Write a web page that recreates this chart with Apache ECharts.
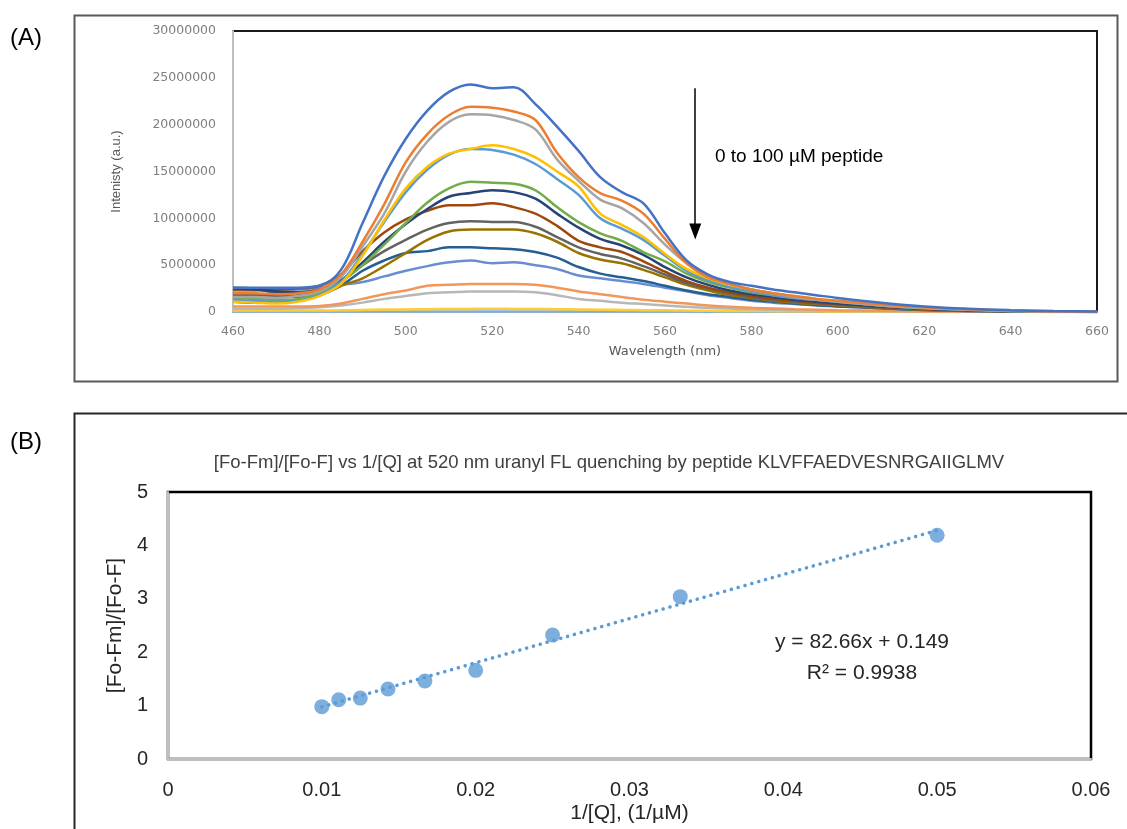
<!DOCTYPE html>
<html>
<head>
<meta charset="utf-8">
<script src="https://cdn.jsdelivr.net/npm/echarts@6/dist/echarts.min.js"></script>
<style>
html,body{margin:0;padding:0;background:#fff;}
#c{width:1127px;height:829px;}
</style>
</head>
<body>
<div id="c"></div>
<script>
// ---------- Panel A: fluorescence spectra ----------
const wavelengths = [460,465,470,475,480,485,490,495,500,505,510,515,520,525,530,535,540,545,550,555,560,565,570,575,580,585,590,595,600,610,620,630,640,650,660];
const spectraColors = ['#4472c4','#ed7d31','#a5a5a5','#ffc000','#5b9bd5','#70ad47','#264478','#9e480e','#636363','#997300','#255e91','#698ed0','#f1975a','#b7b7b7','#ffcd33','#7cafdd'];
const spec1  = [2.6e6,2.6e6,2.6e6,2.6e6,2.8e6,4.5e6,9.5e6,14.5e6,18.5e6,21.5e6,23.5e6,24.3e6,23.9e6,24.0e6,22.2e6,19.8e6,17.2e6,14.4e6,12.8e6,11.6e6,8.4e6,5.5e6,4.0e6,3.2e6,2.8e6,2.4e6,2.1e6,1.8e6,1.5e6,1.0e6,0.6e6,0.35e6,0.2e6,0.1e6,0.05e6];
const spec2  = [2.0e6,2.0e6,1.9e6,2.0e6,2.4e6,4.0e6,7.5e6,11.5e6,16.0e6,19.0e6,21.0e6,21.9e6,21.8e6,21.4e6,20.5e6,17.0e6,14.4e6,12.7e6,11.9e6,10.5e6,7.8e6,5.2e6,3.7e6,3.0e6,2.4e6,2.0e6,1.7e6,1.4e6,1.2e6,0.8e6,0.5e6,0.3e6,0.15e6,0.08e6,0.03e6];
const spec3  = [1.6e6,1.6e6,1.5e6,1.7e6,2.2e6,3.7e6,7.0e6,10.5e6,15.0e6,18.2e6,20.3e6,21.1e6,21.0e6,20.5e6,19.5e6,16.3e6,14.0e6,12.0e6,11.1e6,9.5e6,7.2e6,5.2e6,3.8e6,3.0e6,2.4e6,2.0e6,1.6e6,1.3e6,1.1e6,0.7e6,0.45e6,0.25e6,0.12e6,0.06e6,0.03e6];
const spec4  = [1.1e6,1.0e6,0.9e6,1.1e6,1.7e6,3.0e6,6.0e6,9.8e6,13.2e6,15.5e6,16.9e6,17.4e6,17.8e6,17.4e6,16.5e6,15.0e6,13.4e6,10.5e6,9.3e6,8.0e6,6.2e6,4.6e6,3.6e6,2.9e6,2.4e6,2.0e6,1.7e6,1.4e6,1.2e6,0.75e6,0.45e6,0.3e6,0.15e6,0.07e6,0.03e6];
const spec5  = [1.3e6,1.2e6,1.1e6,1.2e6,1.8e6,3.2e6,6.2e6,9.6e6,12.8e6,15.2e6,16.8e6,17.4e6,17.3e6,16.8e6,15.8e6,14.2e6,12.5e6,10.0e6,8.9e6,7.7e6,6.0e6,4.4e6,3.4e6,2.7e6,2.2e6,1.8e6,1.5e6,1.3e6,1.1e6,0.7e6,0.4e6,0.25e6,0.12e6,0.06e6,0.02e6];
const spec6  = [1.5e6,1.4e6,1.3e6,1.4e6,2.0e6,3.2e6,5.0e6,7.2e6,9.5e6,11.7e6,13.2e6,13.9e6,13.8e6,13.7e6,13.0e6,11.2e6,9.6e6,8.4e6,7.6e6,6.4e6,5.4e6,4.1e6,3.2e6,2.6e6,2.1e6,1.8e6,1.5e6,1.3e6,1.1e6,0.7e6,0.4e6,0.25e6,0.12e6,0.06e6,0.02e6];
const spec7  = [2.5e6,2.4e6,2.2e6,2.1e6,2.4e6,3.4e6,5.3e6,7.5e6,9.4e6,11.0e6,12.3e6,12.7e6,13.0e6,12.8e6,12.1e6,10.5e6,9.0e6,7.8e6,7.1e6,6.1e6,4.8e6,3.7e6,2.9e6,2.3e6,1.9e6,1.6e6,1.3e6,1.1e6,0.9e6,0.6e6,0.35e6,0.2e6,0.1e6,0.05e6,0.02e6];
const spec8  = [2.4e6,2.4e6,2.4e6,2.5e6,2.8e6,4.0e6,6.5e6,8.5e6,9.9e6,10.8e6,11.4e6,11.4e6,11.6e6,11.2e6,10.5e6,9.2e6,7.6e6,6.9e6,6.4e6,5.4e6,4.3e6,3.3e6,2.6e6,2.1e6,1.7e6,1.4e6,1.2e6,1.0e6,0.85e6,0.55e6,0.3e6,0.18e6,0.1e6,0.05e6,0.02e6];
const spec9  = [1.8e6,1.8e6,1.7e6,1.8e6,2.3e6,3.3e6,5.0e6,6.5e6,7.7e6,8.8e6,9.5e6,9.7e6,9.6e6,9.6e6,9.1e6,8.0e6,6.9e6,6.2e6,5.7e6,4.9e6,4.0e6,3.1e6,2.5e6,2.0e6,1.6e6,1.3e6,1.1e6,0.95e6,0.8e6,0.5e6,0.3e6,0.17e6,0.09e6,0.04e6,0.02e6];
const spec10 = [1.1e6,1.0e6,1.0e6,1.2e6,1.8e6,2.8e6,3.6e6,4.9e6,6.3e6,7.7e6,8.6e6,8.8e6,8.8e6,8.8e6,8.4e6,7.5e6,6.3e6,5.6e6,5.2e6,4.5e6,3.7e6,2.9e6,2.3e6,1.8e6,1.5e6,1.2e6,1.0e6,0.85e6,0.7e6,0.45e6,0.25e6,0.15e6,0.08e6,0.04e6,0.02e6];
const spec11 = [2.6e6,2.5e6,2.0e6,1.6e6,1.8e6,2.8e6,4.4e6,5.5e6,6.3e6,6.5e6,6.9e6,6.9e6,6.8e6,6.7e6,6.4e6,5.8e6,4.8e6,4.1e6,3.7e6,3.3e6,2.8e6,2.3e6,1.9e6,1.6e6,1.3e6,1.1e6,0.9e6,0.75e6,0.6e6,0.4e6,0.22e6,0.12e6,0.06e6,0.03e6,0.01e6];
const spec12 = [2.3e6,2.3e6,2.3e6,2.4e6,2.6e6,2.9e6,3.2e6,3.8e6,4.4e6,4.9e6,5.3e6,5.5e6,5.2e6,5.3e6,5.0e6,4.6e6,3.9e6,3.6e6,3.3e6,3.0e6,2.6e6,2.2e6,1.8e6,1.5e6,1.2e6,1.0e6,0.85e6,0.7e6,0.6e6,0.4e6,0.22e6,0.12e6,0.06e6,0.03e6,0.01e6];
const spec13 = [0.6e6,0.6e6,0.6e6,0.6e6,0.65e6,0.9e6,1.4e6,1.9e6,2.3e6,2.8e6,2.9e6,3.0e6,3.0e6,3.0e6,2.9e6,2.6e6,2.2e6,1.9e6,1.6e6,1.3e6,1.1e6,0.9e6,0.7e6,0.55e6,0.45e6,0.38e6,0.3e6,0.25e6,0.2e6,0.13e6,0.08e6,0.05e6,0.03e6,0.02e6,0.01e6];
const spec14 = [0.35e6,0.35e6,0.35e6,0.4e6,0.5e6,0.7e6,1.0e6,1.4e6,1.7e6,2.0e6,2.1e6,2.2e6,2.2e6,2.2e6,2.1e6,1.8e6,1.4e6,1.2e6,1.0e6,0.85e6,0.7e6,0.55e6,0.45e6,0.37e6,0.3e6,0.25e6,0.2e6,0.17e6,0.14e6,0.1e6,0.06e6,0.04e6,0.02e6,0.01e6,0];
const spec15 = [0.15e6,0.15e6,0.15e6,0.15e6,0.16e6,0.18e6,0.22e6,0.26e6,0.28e6,0.3e6,0.32e6,0.33e6,0.34e6,0.33e6,0.32e6,0.3e6,0.28e6,0.25e6,0.22e6,0.2e6,0.18e6,0.15e6,0.13e6,0.11e6,0.1e6,0.09e6,0.08e6,0.07e6,0.06e6,0.05e6,0.04e6,0.03e6,0.02e6,0.01e6,0];
const spec16 = [0.06e6,0.06e6,0.06e6,0.06e6,0.06e6,0.06e6,0.06e6,0.06e6,0.06e6,0.06e6,0.06e6,0.06e6,0.06e6,0.06e6,0.06e6,0.06e6,0.05e6,0.05e6,0.05e6,0.05e6,0.05e6,0.05e6,0.04e6,0.04e6,0.04e6,0.04e6,0.03e6,0.03e6,0.03e6,0.02e6,0.02e6,0.01e6,0.01e6,0.01e6,0];
const spectra = [spec1,spec2,spec3,spec4,spec5,spec6,spec7,spec8,spec9,spec10,spec11,spec12,spec13,spec14,spec15,spec16];
const yTicksA = [0,5000000,10000000,15000000,20000000,25000000,30000000];
const xTicksA = [460,480,500,520,540,560,580,600,620,640,660];

// ---------- Panel B: quenching plot ----------
const invQ = [0.01,0.0111,0.0125,0.0143,0.0167,0.02,0.025,0.0333,0.05];
const ratio = [0.98,1.11,1.14,1.31,1.46,1.66,2.32,3.04,4.19];
const trendX = [0.01,0.05];
const trendY = [0.976,4.282];
const xTicksB = [0,0.01,0.02,0.03,0.04,0.05,0.06];
const yTicksB = [0,1,2,3,4,5];

const NARROW = '"Liberation Sans Narrow","Liberation Sans",sans-serif';
const WIDE = '"DejaVu Sans",sans-serif';

const chart = echarts.init(document.getElementById('c'), null, {renderer:'canvas'});

const seriesA = spectra.map((s,i)=>({
  type:'line', xAxisIndex:0, yAxisIndex:0, smooth:0.35, showSymbol:false, symbol:'none',
  data: wavelengths.map((w,j)=>[w,s[j]]),
  lineStyle:{color:spectraColors[i], width:2.5},
  itemStyle:{color:spectraColors[i]},
  z: 20 - i
}));
seriesA[0].markLine = {
  silent:true, symbol:['none','triangle'], symbolSize:[12,16], animation:false,
  label:{show:false},
  lineStyle:{color:'#000', width:1.5, type:'solid'},
  data:[[{coord:[567,23.9e6]},{coord:[567,8.6e6]}]]
};

const option = {
  animation:false,
  backgroundColor:'#fff',
  grid:[
    {left:233, top:31, width:864, height:281, show:true, borderColor:'#1a1a1a', borderWidth:2, backgroundColor:'transparent'},
    {left:168, top:492, width:923, height:267, show:true, borderColor:'#000', borderWidth:2.5, backgroundColor:'transparent'}
  ],
  xAxis:[
    {type:'value', gridIndex:0, min:xTicksA[0], max:xTicksA[xTicksA.length-1], interval:20,
     name:'Wavelength (nm)', nameLocation:'middle', nameGap:33,
     nameTextStyle:{fontFamily:WIDE, fontSize:13, color:'#595959'},
     axisLine:{show:true, lineStyle:{color:'#bfbfbf', width:2}}, axisTick:{show:false},
     axisLabel:{fontFamily:WIDE, fontSize:12.5, color:'#7f7f7f', margin:13},
     splitLine:{show:false}},
    {type:'value', gridIndex:1, min:0, max:0.06, interval:0.01,
     name:'1/[Q], (1/\u00b5M)', nameLocation:'middle', nameGap:44,
     nameTextStyle:{fontFamily:NARROW, fontSize:21, color:'#262626'},
     axisLine:{show:true, lineStyle:{color:'#bfbfbf', width:2}}, axisTick:{show:false},
     axisLabel:{fontFamily:NARROW, fontSize:20, color:'#262626', margin:21,
       formatter:v=> v===0 ? '0' : v.toFixed(2)},
     splitLine:{show:false}}
  ],
  yAxis:[
    {type:'value', gridIndex:0, min:0, max:30000000, interval:5000000,
     name:'Intenisty (a.u.)', nameLocation:'middle', nameGap:110,
     nameTextStyle:{fontFamily:NARROW, fontSize:13, color:'#595959'},
     axisLine:{show:true, lineStyle:{color:'#bfbfbf', width:2}}, axisTick:{show:false},
     axisLabel:{fontFamily:WIDE, fontSize:12.5, color:'#7f7f7f', margin:17, formatter:v=>String(v)},
     splitLine:{show:false}},
    {type:'value', gridIndex:1, min:0, max:5, interval:1,
     name:'[Fo-Fm]/[Fo-F]', nameLocation:'middle', nameGap:33,
     nameTextStyle:{fontFamily:NARROW, fontSize:21, color:'#262626'},
     axisLine:{show:true, lineStyle:{color:'#bfbfbf', width:2}}, axisTick:{show:false},
     axisLabel:{fontFamily:NARROW, fontSize:20, color:'#262626', margin:20},
     splitLine:{show:false}}
  ],
  graphic:[
    {type:'rect', shape:{x:74.5, y:15.5, width:1043, height:366}, style:{fill:'none', stroke:'#595959', lineWidth:2}, z:-10},
    {type:'rect', shape:{x:74.5, y:413.5, width:1070, height:440}, style:{fill:'none', stroke:'#262626', lineWidth:2}, z:-10},
    {type:'text', x:10, y:26, style:{text:'(A)', font:'24px "Liberation Sans", sans-serif', fill:'#000'}},
    {type:'text', x:10, y:430, style:{text:'(B)', font:'24px "Liberation Sans", sans-serif', fill:'#000'}},
    {type:'text', x:715, y:157, style:{text:'0 to 100 \u00b5M peptide', font:'19px '+NARROW, fill:'#000', verticalAlign:'middle', textAlign:'left'}},
    {type:'text', x:609, y:463, style:{text:'[Fo-Fm]/[Fo-F] vs 1/[Q] at 520 nm uranyl FL quenching by peptide KLVFFAEDVESNRGAIIGLMV', font:'18.5px '+NARROW, fill:'#404040', verticalAlign:'middle', textAlign:'center'}},
    {type:'text', x:862, y:642, style:{text:'y = 82.66x + 0.149', font:'21px '+NARROW, fill:'#262626', verticalAlign:'middle', textAlign:'center'}},
    {type:'text', x:862, y:673, style:{text:'R\u00b2 = 0.9938', font:'21px '+NARROW, fill:'#262626', verticalAlign:'middle', textAlign:'center'}}
  ],
  series: seriesA.concat([
    {type:'line', xAxisIndex:1, yAxisIndex:1, showSymbol:false, symbol:'none',
     data: trendX.map((x,i)=>[x,trendY[i]]),
     lineStyle:{color:'#5b9bd5', width:3.5, type:[0.1,7], cap:'round'}, z:5},
    {type:'scatter', xAxisIndex:1, yAxisIndex:1, symbol:'circle', symbolSize:15,
     data: invQ.map((x,i)=>[x,ratio[i]]),
     itemStyle:{color:'#5b9bd5'}, z:10}
  ])
};
chart.setOption(option);
</script>
</body>
</html>
